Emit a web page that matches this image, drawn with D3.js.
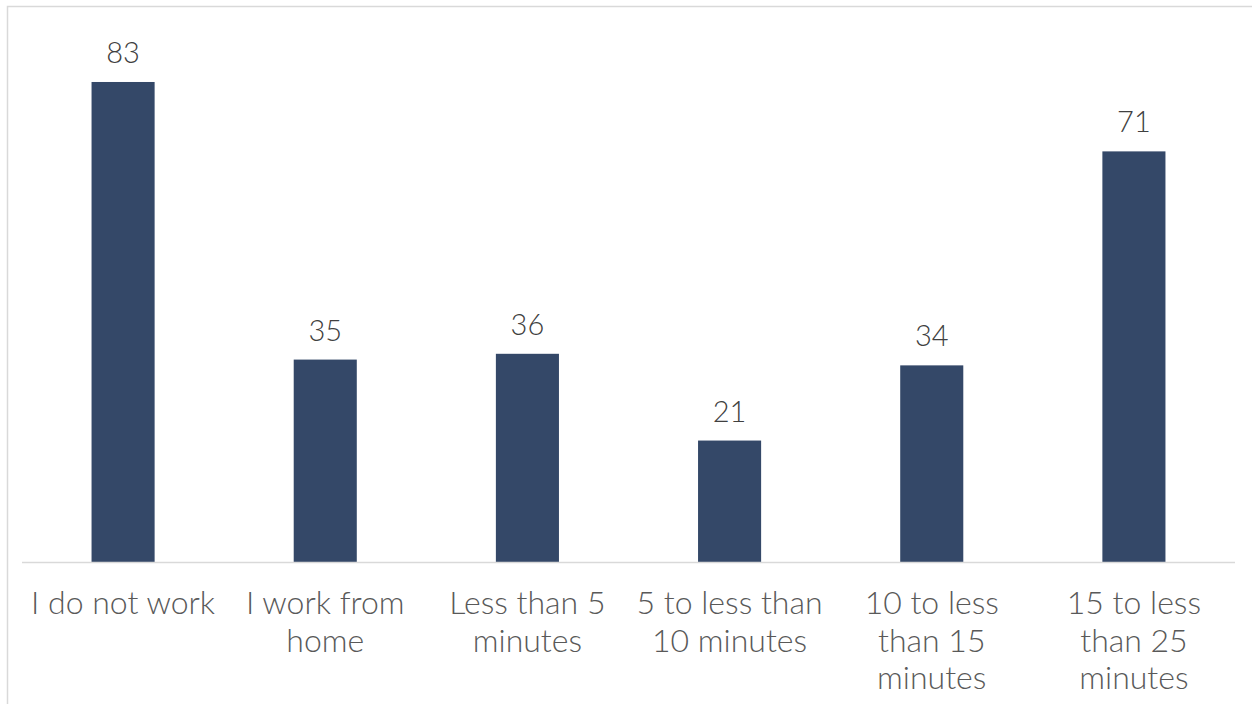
<!DOCTYPE html>
<html><head><meta charset="utf-8">
<script src="https://cdn.jsdelivr.net/npm/d3@7"></script>
<style>html,body{margin:0;padding:0;background:#fff;}svg{display:block;}</style>
</head><body>
<script>
const categories = [
  ["I do not work"],
  ["I work from", "home"],
  ["Less than 5", "minutes"],
  ["5 to less than", "10 minutes"],
  ["10 to less", "than 15", "minutes"],
  ["15 to less", "than 25", "minutes"]
];
const values = [83, 35, 36, 21, 34, 71];

const W = 1252, H = 704;
const svg = d3.select("body").append("svg").attr("width", W).attr("height", H);
const font = "Lato, 'Open Sans', sans-serif";

// outer frame
svg.append("path").attr("d", `M7.5,${H} L7.5,6.5 L${W},6.5`)
  .attr("fill", "none").attr("stroke", "#d9d9d9").attr("stroke-width", 1.5);

const x = d3.scaleBand().domain(d3.range(categories.length)).range([22, 1235]).paddingInner(0.688).paddingOuter(0.344);
const y = d3.scaleLinear().domain([0, 90]).range([562, 41.5]);

svg.append("g").selectAll("rect").data(values).join("rect")
  .attr("x", (d, i) => x(i)).attr("width", x.bandwidth())
  .attr("y", d => y(d)).attr("height", d => y(0) - y(d))
  .attr("fill", "#344868");

svg.append("line").attr("x1", 22).attr("x2", 1235).attr("y1", 562.5).attr("y2", 562.5)
  .attr("stroke", "#d9d9d9").attr("stroke-width", 1.5);

svg.append("g").selectAll("text").data(values).join("text")
  .attr("x", (d, i) => x(i) + x.bandwidth() / 2).attr("y", d => y(d) - 19)
  .attr("text-anchor", "middle").attr("font-family", font).attr("font-weight", 300)
  .attr("font-size", 29).attr("fill", "#404040").text(d => d);

const lab = svg.append("g").selectAll("text").data(categories).join("text")
  .attr("x", (d, i) => x(i) + x.bandwidth() / 2).attr("y", 614)
  .attr("text-anchor", "middle").attr("font-family", font).attr("font-weight", 300)
  .attr("font-size", 32).attr("fill", "#595959");
lab.each(function(lines, i) {
  d3.select(this).selectAll("tspan").data(lines).join("tspan")
    .attr("x", x(i) + x.bandwidth() / 2).attr("dy", (l, j) => j ? 37.5 : 0).text(l => l);
});
</script>
</body></html>
